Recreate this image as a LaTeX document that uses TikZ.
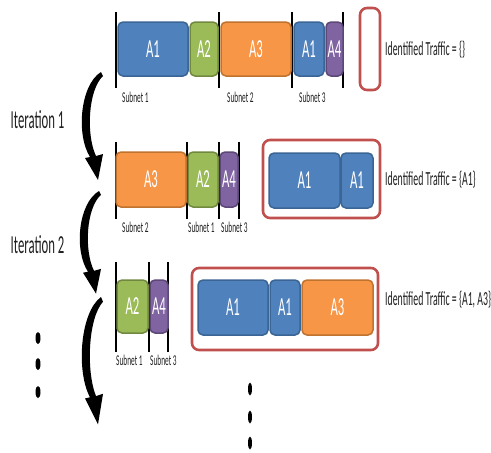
\documentclass[tikz,border=0pt]{standalone}
\usepackage{fontspec}
\setmainfont{Carlito}
\usetikzlibrary{shapes.geometric}
\definecolor{appblue}{HTML}{4F81BD}\definecolor{appblueD}{HTML}{3A6594}
\definecolor{appgreen}{HTML}{9BBB59}\definecolor{appgreenD}{HTML}{71893F}
\definecolor{apporange}{HTML}{F79646}\definecolor{apporangeD}{HTML}{C0722F}
\definecolor{apppurple}{HTML}{8064A2}\definecolor{apppurpleD}{HTML}{5C4776}
\definecolor{idred}{HTML}{C0504D}
\definecolor{labelgray}{HTML}{202020}
% narrow text: everything is set condensed horizontally
\newcommand{\narrow}[2]{\scalebox{0.49}[1]{\fontsize{#1}{#1}\selectfont #2}}
\tikzset{
  pkt/.style={rounded corners=5pt, line width=1.5pt, inner sep=0pt,
              text=white, minimum height=54pt},
  pblue/.style={pkt, fill=appblue, draw=appblueD},
  pgreen/.style={pkt, fill=appgreen, draw=appgreenD},
  porange/.style={pkt, fill=apporange, draw=apporangeD},
  ppurple/.style={pkt, fill=apppurple, draw=apppurpleD},
  idbox/.style={draw=idred, line width=2.6pt, rounded corners=7pt, inner sep=0pt},
  tick/.style={line width=1.3pt, black},
  sublbl/.style={anchor=west, inner sep=0pt, text=labelgray},
  idlbl/.style={anchor=west, inner sep=0pt, text=labelgray},
  dotmark/.style={fill=black, ellipse, inner sep=0pt, minimum width=5pt, minimum height=12pt},
  curl/.pic={
    \fill (1,0) .. controls (-20,13) and (-24,63) .. (-10,85)
      -- (-15,86) -- (-2,108) -- (3,82) -- (-4,84)
      .. controls (-14,63) and (-12,18) .. (3,4) -- cycle;
  }
}
\begin{document}
\begin{tikzpicture}[x=1pt, y=-1pt]
\useasboundingbox (0,0) rectangle (491,453);

% ---- row 1: captured traffic, three subnets
\draw[tick] (116,12) -- (116,88);
\draw[tick] (219,12) -- (219,88);
\draw[tick] (292,12) -- (292,88);
\draw[tick] (343,12) -- (343,88);
\node[pblue,   minimum width=70pt] (r1a) at (153,49)   {\narrow{26}{A1}};
\node[pgreen,  minimum width=28pt] (r1b) at (204,49)   {\narrow{26}{A2}};
\node[porange, minimum width=70pt] (r1c) at (256,49)   {\narrow{26}{A3}};
\node[pblue,   minimum width=30pt] (r1d) at (309,49)   {\narrow{26}{A1}};
\node[ppurple, minimum width=17pt] (r1e) at (334.5,49) {\narrow{26}{A4}};
\node[sublbl] (s11) at (122,97) {\narrow{15}{Subnet 1}};
\node[sublbl] (s12) at (227,97) {\narrow{15}{Subnet 2}};
\node[sublbl] (s13) at (299,97) {\narrow{15}{Subnet 3}};
\node[idbox, minimum width=20pt, minimum height=82pt] (id1) at (370,49) {};
\node[idlbl] (t1) at (385,50) {\narrow{20}{Identified Traffic = \{\}}};

% ---- row 2
\draw[tick] (116,142) -- (116,219);
\draw[tick] (187,142) -- (187,219);
\draw[tick] (219,142) -- (219,219);
\draw[tick] (239,142) -- (239,219);
\node[porange, minimum width=70pt, minimum height=55pt] (r2a) at (151,179.5) {\narrow{26}{A3}};
\node[pgreen,  minimum width=30pt, minimum height=55pt] (r2b) at (203,179.5) {\narrow{26}{A2}};
\node[ppurple, minimum width=18pt, minimum height=55pt] (r2c) at (229,179.5) {\narrow{26}{A4}};
\node[sublbl] (s21) at (122,227) {\narrow{15}{Subnet 2}};
\node[sublbl] (s22) at (188,227) {\narrow{15}{Subnet 1}};
\node[sublbl] (s23) at (221,227) {\narrow{15}{Subnet 3}};
\node[idbox, minimum width=117pt, minimum height=78pt] (id2) at (321.5,179) {};
\node[pblue, minimum width=71pt, minimum height=55pt] (r2d) at (304.5,180.5) {\narrow{26}{A1}};
\node[pblue, minimum width=32pt, minimum height=55pt] (r2e) at (357,180.5)   {\narrow{26}{A1}};
\node[idlbl] (t2) at (385,180) {\narrow{20}{Identified Traffic = \{A1\}}};

% ---- row 3
\draw[tick] (116,262) -- (116,352);
\draw[tick] (149,262) -- (149,352);
\draw[tick] (168,262) -- (168,352);
\node[pgreen,  minimum width=31pt, minimum height=53pt] (r3a) at (132.5,306.5) {\narrow{26}{A2}};
\node[ppurple, minimum width=18pt, minimum height=53pt] (r3b) at (159,306.5)   {\narrow{26}{A4}};
\node[sublbl] (s31) at (116,360) {\narrow{15}{Subnet 1}};
\node[sublbl] (s32) at (150,360) {\narrow{15}{Subnet 3}};
\node[idbox, minimum width=186pt, minimum height=82pt] (id3) at (285,309) {};
\node[pblue,   minimum width=70pt, minimum height=55pt] (r3c) at (233,307.5)   {\narrow{26}{A1}};
\node[pblue,   minimum width=30pt, minimum height=55pt] (r3d) at (285,307.5)   {\narrow{26}{A1}};
\node[porange, minimum width=71pt, minimum height=55pt] (r3e) at (337.5,307.5) {\narrow{26}{A3}};
\node[idlbl] (t3) at (385,300) {\narrow{20}{Identified Traffic = \{A1, A3\}}};

% ---- iterations
\node[text=labelgray, inner sep=0pt] (it1) at (37.5,120) {\narrow{26}{Iteration 1}};
\node[text=labelgray, inner sep=0pt] (it2) at (37.5,245) {\narrow{26}{Iteration 2}};
\pic at (100,72) {curl};
\pic[yscale=0.95] at (98,191) {curl};
\pic[yscale=1.18] at (100,297) {curl};

% ---- continuation dots
\node[dotmark] (ld1) at (38,338) {};
\node[dotmark] (ld2) at (38,364) {};
\node[dotmark] (ld3) at (38,392) {};
\node[dotmark, minimum width=4pt, minimum height=13pt] (bd1) at (250,389) {};
\node[dotmark, minimum width=4pt, minimum height=13pt] (bd2) at (250,417) {};
\node[dotmark, minimum width=4pt, minimum height=13pt] (bd3) at (250,443) {};
\end{tikzpicture}
\end{document}
